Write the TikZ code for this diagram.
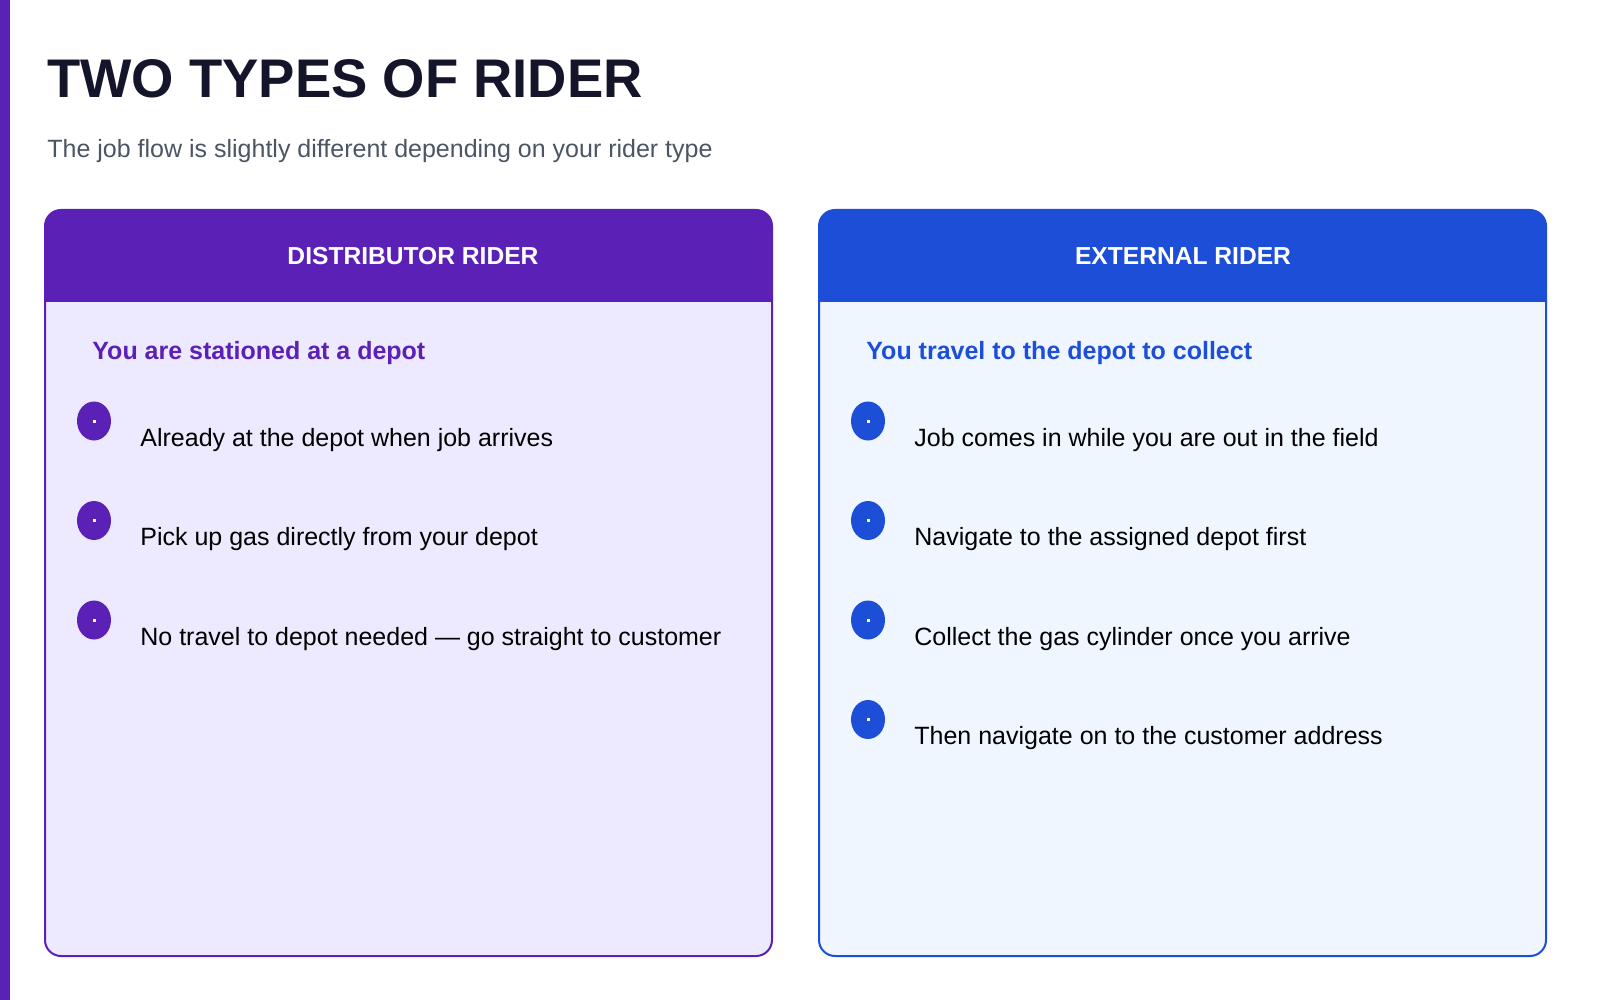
\documentclass[tikz,border=0pt]{standalone}
\usepackage{fontspec}
\usetikzlibrary{shapes.geometric}
\setmainfont{Liberation Sans}
\begin{document}
\definecolor{pur}{HTML}{5B21B6}
\definecolor{purbg}{HTML}{EDE9FE}
\definecolor{blu}{HTML}{1D4ED8}
\definecolor{blubg}{HTML}{EFF6FF}
\definecolor{ttl}{HTML}{14142B}
\definecolor{sub}{HTML}{4B5563}
\begin{tikzpicture}[x=0.5pt,y=-0.5pt,
  item/.style={anchor=west,font=\fontsize{12.5}{14}\selectfont,text=black,inner sep=0},
  bul/.style={ellipse,minimum width=17pt,minimum height=19.5pt,inner sep=0,fill=#1},
  hdr/.style={font=\fontsize{12.3}{14}\selectfont\bfseries,text=white},
  sh/.style={anchor=west,font=\fontsize{12.5}{14}\selectfont\bfseries,inner sep=0}]
\useasboundingbox (0,0) rectangle (1600,1000);
\fill[white] (0,0) rectangle (1600,1000);
\fill[pur] (0,0) rectangle (10,1000);
\node[anchor=base west,inner sep=0,text=ttl,font=\fontsize{27.2}{32}\selectfont\bfseries] (title) at (47,98) {TWO TYPES OF RIDER};
\node[anchor=base west,inner sep=0,text=sub,font=\fontsize{12.5}{14}\selectfont] (subt) at (47,158) {The job flow is slightly different depending on your rider type};
\foreach \x/\c/\bg/\n in {45/pur/purbg/L,819/blu/blubg/R}{
  \fill[\bg,rounded corners=8pt] (\x,210) rectangle (\x+727,956);
  \begin{scope}
    \clip[rounded corners=8pt] (\x,210) rectangle (\x+727,956);
    \fill[\c] (\x,210) rectangle (\x+727,302);
  \end{scope}
  \draw[\c,line width=1pt,rounded corners=8pt] (\x,210) rectangle (\x+727,956);
}
\node[hdr] (hL) at (413,256) {DISTRIBUTOR RIDER};
\node[hdr] (hR) at (1183,256) {EXTERNAL RIDER};
\node[sh,text=pur] (sL) at (92,353) {You are stationed at a depot};
\node[sh,text=blu] (sR) at (866,353) {You travel to the depot to collect};
\foreach \i/\t in {0/Already at the depot when job arrives,1/Pick up gas directly from your depot,2/No travel to depot needed — go straight to customer}{
  \node[bul=pur] (bL\i) at (94,421+99.5*\i) {};
  \fill[white] (93,419.5+99.5*\i) rectangle (96,422.5+99.5*\i);
  \node[item] (tL\i) at (140,440+99.5*\i) {\t};
}
\foreach \i/\t in {0/Job comes in while you are out in the field,1/Navigate to the assigned depot first,2/Collect the gas cylinder once you arrive,3/Then navigate on to the customer address}{
  \node[bul=blu] (bR\i) at (868,421+99.5*\i) {};
  \fill[white] (867,419.5+99.5*\i) rectangle (870,422.5+99.5*\i);
  \node[item] (tR\i) at (914,440+99.5*\i) {\t};
}
\end{tikzpicture}
\end{document}
